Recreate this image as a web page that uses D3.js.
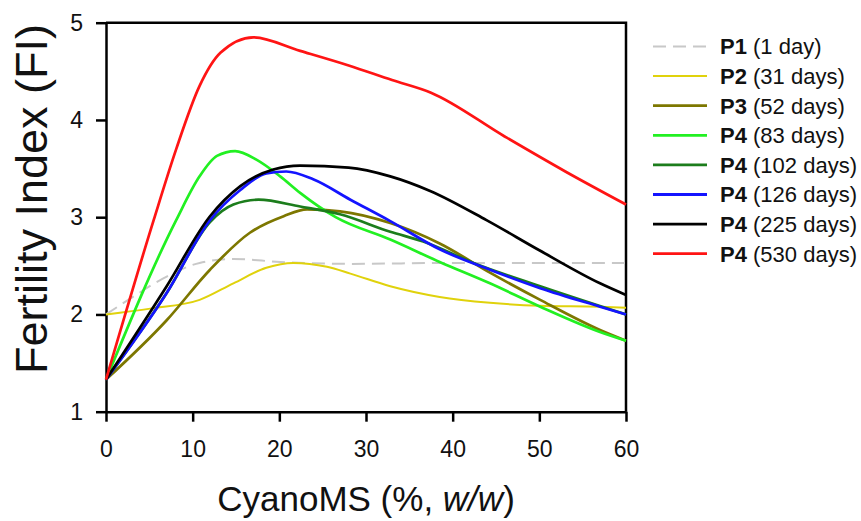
<!DOCTYPE html>
<html lang="en">
<head>
<meta charset="UTF-8">
<title>Fertility Index vs CyanoMS</title>
<script src="https://d3js.org/d3.v7.min.js"></script>
<style>
    body { margin: 0; background: #fff; }
    svg { display: block; font-family: "Liberation Sans", Arial, sans-serif; }
    .axis path, .axis line { stroke: #000; stroke-width: 2.5px; }
    .axis text { font-size: 23px; fill: #111; font-family: "Liberation Sans", Arial, sans-serif; }
</style>
</head>
<body>
<div id="chart"></div>
<script>
// series labels
const seriesCodes = ['P1', 'P2', 'P3', 'P4', 'P4', 'P4', 'P4', 'P4'];
const seriesAges  = ['(1 day)', '(31 days)', '(52 days)', '(83 days)', '(102 days)', '(126 days)', '(225 days)', '(530 days)'];
const seriesColors = ['#c8c8c8', '#e0d20c', '#7d7700', '#22f022', '#1c7d1c', '#1414ff', '#000000', '#ff1414'];

// [CyanoMS %, FI]
const p1 = [[0,2.0],[3.1,2.18],[7,2.39],[10.8,2.53],[14.7,2.57],[20.1,2.54],[28.2,2.52],[40,2.53],[60,2.53]];
const p2 = [[0,2.0],[5.1,2.06],[10.8,2.15],[14.7,2.32],[18.5,2.48],[21.6,2.53],[25.5,2.49],[28.2,2.42],[32.8,2.29],[38.5,2.18],[44.3,2.12],[50.1,2.09],[57,2.08],[60,2.07]];
const p3 = [[0,1.33],[7,1.94],[12,2.46],[16.6,2.84],[20.5,3.01],[23.2,3.08],[27,3.06],[32.8,2.94],[38.5,2.73],[44.3,2.43],[50.1,2.15],[57,1.84],[60,1.73]];
const p4d83 = [[0,1.33],[8.1,2.97],[10.8,3.42],[12.8,3.63],[14.9,3.68],[17.4,3.59],[20.1,3.42],[22.4,3.25],[26.5,3.0],[32.8,2.77],[38.5,2.54],[44.3,2.32],[50.1,2.08],[57,1.82],[60,1.73]];
const p4d102 = [[0,1.33],[7,2.22],[12,2.95],[14.7,3.13],[17.6,3.18],[22.4,3.11],[27,3.03],[32.8,2.85],[36.6,2.75],[42.4,2.53],[50.1,2.29],[60,2.0]];
const p4d126 = [[0,1.33],[7,2.22],[12,2.97],[15.5,3.28],[18.5,3.45],[20.8,3.47],[23.9,3.39],[28.2,3.18],[32.8,2.96],[38.5,2.67],[44.3,2.46],[50.1,2.27],[57,2.08],[60,2.0]];
const p4d225 = [[0,1.33],[7,2.29],[12,3.01],[15.5,3.32],[19.3,3.49],[22.4,3.53],[28,3.51],[32.8,3.42],[37.4,3.27],[43.9,2.97],[50,2.66],[57,2.32],[60,2.2]];
const p4d530 = [[0,1.33],[5.5,2.97],[8.1,3.7],[10.8,4.35],[13.2,4.69],[17,4.85],[22.4,4.71],[28,4.56],[33,4.41],[37.5,4.28],[46,3.83],[53,3.47],[60,3.13]];

const xTicks = [0, 10, 20, 30, 40, 50, 60];
const yTicks = [1, 2, 3, 4, 5];

const allSeries = [p1, p2, p3, p4d83, p4d102, p4d126, p4d225, p4d530];

const width = 861, height = 521;
const margin = { top: 22.7, right: 235, bottom: 109.3, left: 106 };

const svg = d3.select('#chart').append('svg')
    .attr('width', width)
    .attr('height', height);

const x = d3.scaleLinear().domain([0, 60]).range([margin.left, width - margin.right]);
const y = d3.scaleLinear().domain([1, 5]).range([height - margin.bottom, margin.top]);

// frame (top + right)
svg.append('path')
    .attr('d', `M${x(0)},${y(5)}H${x(60)}V${y(1)}`)
    .attr('fill', 'none')
    .attr('stroke', '#000')
    .attr('stroke-width', 2.5);

svg.append('g')
    .attr('class', 'axis')
    .attr('transform', `translate(0,${y(1)})`)
    .call(d3.axisBottom(x).tickValues(xTicks).tickFormat(d3.format('d'))
        .tickSize(10).tickSizeOuter(0).tickPadding(19));

svg.append('g')
    .attr('class', 'axis')
    .attr('transform', `translate(${x(0)},0)`)
    .call(d3.axisLeft(y).tickValues(yTicks).tickFormat(d3.format('d'))
        .tickSize(10).tickSizeOuter(0).tickPadding(13));

// curves
const line = d3.line()
    .x(d => x(d[0]))
    .y(d => y(d[1]))
    .curve(d3.curveMonotoneX);

svg.append('g')
    .selectAll('path')
    .data(allSeries)
    .enter().append('path')
    .attr('d', line)
    .attr('fill', 'none')
    .attr('stroke', (d, i) => seriesColors[i])
    .attr('stroke-width', (d, i) => i < 2 ? 2 : 2.7)
    .attr('stroke-dasharray', (d, i) => i === 0 ? '13,7' : null)
    .attr('stroke-linejoin', 'round');

// axis titles
svg.append('text')
    .attr('x', (x(0) + x(60)) / 2)
    .attr('y', 511)
    .attr('text-anchor', 'middle')
    .attr('font-size', 35)
    .attr('fill', '#111')
    .call(t => {
        t.append('tspan').text('CyanoMS (%, ');
        t.append('tspan').attr('font-style', 'italic').text('w/w');
        t.append('tspan').text(')');
    });

svg.append('text')
    .attr('transform', 'translate(47,199) rotate(-90)')
    .attr('text-anchor', 'middle')
    .attr('font-size', 45)
    .attr('fill', '#111')
    .text('Fertility Index (FI)');

// legend
const legend = svg.append('g').attr('transform', 'translate(653,46.5)');
const rows = legend.selectAll('g')
    .data(seriesCodes)
    .enter().append('g')
    .attr('transform', (d, i) => `translate(0,${i * 29.6})`);

rows.append('line')
    .attr('x1', 0).attr('x2', 54)
    .attr('stroke', (d, i) => seriesColors[i])
    .attr('stroke-width', (d, i) => i < 2 ? 2 : 2.8)
    .attr('stroke-dasharray', (d, i) => i === 0 ? '13,7' : null);

rows.append('text')
    .attr('x', 67)
    .attr('dy', '0.36em')
    .attr('font-size', 22)
    .attr('fill', '#111')
    .call(t => {
        t.append('tspan').attr('font-weight', 'bold').text(d => d);
        t.append('tspan').text((d, i) => ' ' + seriesAges[i]);
    });
</script>
</body>
</html>
